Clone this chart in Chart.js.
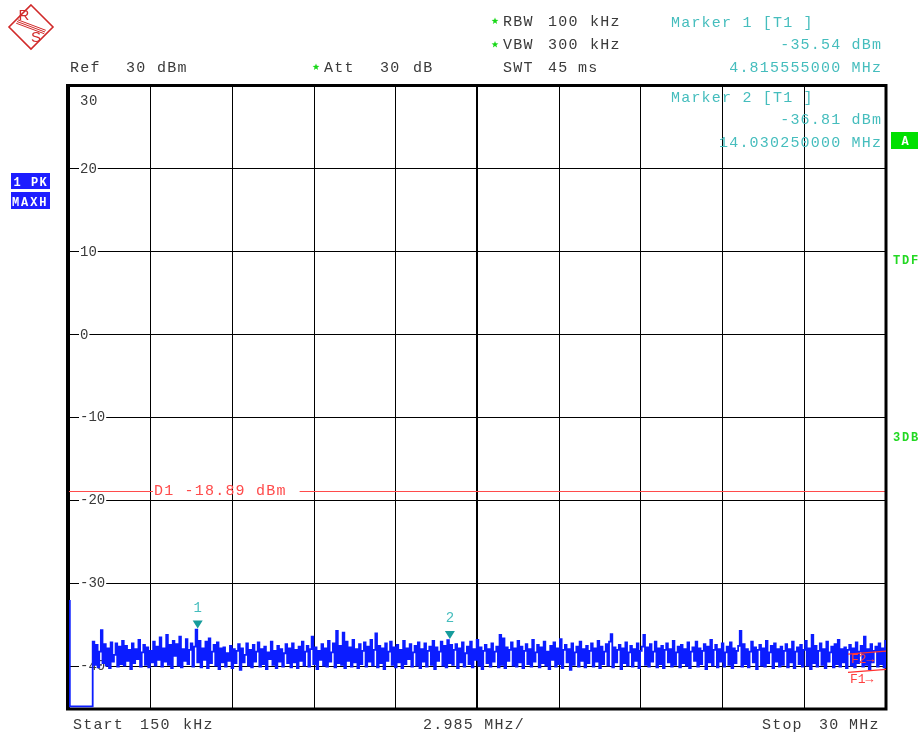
<!DOCTYPE html>
<html>
<head>
<meta charset="utf-8">
<script src="https://cdn.jsdelivr.net/npm/chart.js@4.4.1/dist/chart.umd.min.js"></script>
<style>
  html, body { margin: 0; padding: 0; background: #fff; }
  #wrap { position: relative; width: 922px; height: 733px; }
</style>
</head>
<body>
<div id="wrap"><canvas id="c" width="922" height="733"></canvas></div>
<script>
// Sweep settings
const START_MHZ = 0.15;
const STOP_MHZ = 30;
const SPAN_PER_DIV_MHZ = 2.985;
const REF_DBM = 30;
const BOTTOM_DBM = -45;
const ATT_DB = 30;
const RBW_KHZ = 100;
const VBW_KHZ = 300;
const SWT_MS = 45;

// Level grid (dBm)
const levelTicks = [20, 10, 0, -10, -20, -30, -40];

// Trace 1, max hold, peak detector (dBm per sweep point)
const traceDbm = [
  -32.1, -44.8, -44.8, -44.8, -44.8, -44.8, -44.8, -44.8, -44.8, -44.8, -44.8, -44.8, -44.8, -44.8, -44.8,
  -37.0, -39.8, -37.4, -40.1, -38.2, -35.6, -39.6, -37.3, -39.9, -37.8, -40.2, -37.1, -39.4, -38.6, -37.2, -40.0, -37.6, -39.7, -36.9, -39.9,
  -37.5, -39.3, -38.0, -40.3, -37.2, -39.6, -37.9, -39.1, -36.8, -40.0, -38.3, -37.4, -39.8, -37.7, -40.1, -38.1, -39.5, -37.0, -39.9, -37.6,
  -39.2, -36.5, -40.0, -37.8, -39.4, -36.2, -39.8, -37.4, -40.2, -36.9, -38.7, -37.3, -39.9, -36.4, -40.1, -37.9, -39.3, -36.7, -39.7, -38.0,
  -37.2, -40.0, -37.6, -35.54, -39.5, -36.9, -40.1, -37.8, -39.2, -37.0, -40.2, -36.6, -39.6, -38.2, -37.4, -39.9, -37.1, -40.3, -37.8, -39.5,
  -37.7, -40.0, -38.4, -39.3, -37.5, -40.2, -37.9, -39.6, -38.1, -37.3, -40.4, -37.8, -39.5, -38.6, -37.2, -39.9, -38.0, -40.1, -37.4, -39.4,
  -38.2, -37.1, -40.0, -37.9, -39.7, -37.6, -40.3, -38.3, -39.1, -37.0, -39.8, -38.1, -40.2, -37.5, -39.4, -37.9, -40.0, -38.4, -37.3, -39.6,
  -37.8, -40.1, -37.2, -39.5, -38.0, -40.2, -37.6, -39.3, -37.0, -39.9, -38.2, -37.5, -40.0, -37.9, -36.4, -39.7, -37.7, -40.3, -38.1, -39.2,
  -37.3, -39.9, -37.8, -40.0, -36.9, -39.4, -38.3, -37.2, -40.1, -35.7, -39.6, -37.5, -39.8, -35.9, -40.2, -37.0, -39.3, -37.7, -40.0, -36.8,
  -39.5, -37.9, -40.2, -37.3, -39.7, -38.1, -37.1, -40.0, -37.6, -39.4, -36.8, -39.9, -38.0, -36.0, -40.1, -37.5, -39.6, -37.8, -40.3, -37.2,
  -39.3, -38.2, -37.0, -39.8, -37.7, -40.1, -37.4, -39.5, -38.0, -40.2, -36.9, -39.7, -37.8, -39.1, -37.3, -40.0, -38.3, -37.5, -39.9, -37.1,
  -40.2, -37.9, -39.4, -37.2, -40.0, -38.1, -37.6, -39.8, -36.9, -40.3, -37.7, -39.3, -38.2, -37.0, -39.9, -37.5, -40.1, -36.81, -39.6, -37.4,
  -39.8, -38.0, -37.3, -40.2, -37.8, -39.5, -37.1, -40.0, -38.4, -37.6, -39.7, -37.0, -40.1, -37.9, -39.2, -36.8, -39.9, -37.7, -40.3, -38.1,
  -37.4, -39.6, -37.9, -40.0, -37.2, -39.4, -38.2, -37.6, -40.1, -36.2, -39.8, -36.6, -40.2, -37.7, -39.3, -38.0, -37.1, -39.9, -37.8, -40.0,
  -36.9, -39.5, -37.6, -40.2, -38.1, -37.3, -39.7, -37.9, -40.0, -36.8, -39.4, -38.3, -37.4, -40.1, -37.7, -39.6, -37.0, -39.9, -38.2, -40.3,
  -37.5, -39.2, -37.1, -40.0, -37.8, -39.7, -36.7, -40.2, -38.0, -37.4, -39.5, -37.9, -40.4, -37.2, -39.8, -38.3, -37.6, -40.0, -37.0, -39.3,
  -37.9, -40.1, -37.5, -39.6, -38.1, -37.2, -40.0, -37.8, -39.4, -36.9, -40.2, -37.6, -39.7, -38.2, -37.3, -39.9, -37.0, -36.1, -40.1, -37.7,
  -39.5, -38.0, -37.4, -40.3, -37.8, -39.6, -37.1, -39.9, -38.3, -37.5, -40.0, -37.9, -39.3, -37.2, -40.2, -38.1, -37.6, -36.2, -39.8, -37.7,
  -40.0, -37.3, -39.4, -38.2, -37.0, -40.1, -37.8, -39.7, -37.5, -40.2, -38.0, -37.2, -39.5, -37.9, -40.0, -36.9, -39.8, -38.3, -37.6, -40.1,
  -37.4, -39.6, -37.9, -39.9, -37.1, -40.2, -38.2, -37.7, -39.3, -37.0, -40.0, -37.8, -39.7, -38.1, -37.3, -40.3, -37.6, -39.5, -36.8, -39.9,
  -38.0, -37.4, -40.1, -37.9, -39.4, -37.2, -40.0, -38.3, -37.6, -39.8, -37.1, -40.2, -37.8, -39.6, -38.1, -37.5, -35.7, -40.0, -37.3, -39.7,
  -37.9, -40.1, -38.2, -37.0, -39.5, -37.7, -40.3, -38.0, -37.4, -39.9, -37.8, -40.0, -36.9, -39.6, -38.3, -37.5, -40.2, -37.2, -39.4, -37.9,
  -40.0, -37.6, -39.8, -38.1, -37.3, -40.1, -37.9, -39.5, -37.0, -40.2, -38.2, -37.7, -39.7, -37.4, -40.0, -38.0, -36.9, -39.9, -37.8, -40.3,
  -36.2, -39.6, -37.5, -40.0, -38.1, -37.2, -39.8, -37.9, -40.2, -37.0, -39.4, -38.3, -37.6, -40.1, -37.3, -39.7, -36.8, -40.0, -37.9, -39.5,
  -37.7, -40.2, -38.0, -37.4, -39.9, -37.8, -40.1, -37.1, -39.6, -38.2, -37.5, -40.0, -36.4, -39.8, -37.9, -40.3, -37.3, -39.5, -38.1, -37.6,
  -40.0, -37.2, -39.7, -37.8, -40.1, -36.9
];

// Markers on trace 1
const markerNames = ['1', '2'];
const markerFreqMHz = [4.815555, 14.03025];
const markerDbm = [-35.54, -36.81];

// Display line D1
const displayLineDbm = -18.89;

// Frequency of each sweep point, evenly spaced from start to stop
const sweepFreqMHz = traceDbm.map((_, i) => START_MHZ + i * (STOP_MHZ - START_MHZ) / (traceDbm.length - 1));
// Vertical grid: one line per division
const freqGridMHz = Array.from({ length: 11 }, (_, i) => START_MHZ + i * SPAN_PER_DIV_MHZ);

const MONO = '"Liberation Mono", "DejaVu Sans Mono", monospace';
const GRAY = '#3a3a3a';
const TEAL = '#45bdbd';
const MARKER_TEAL = '#169c9c';
const RED = '#ff4b4b';
const GREEN = '#18d818';
const BLUE_BOX = '#1d1dff';

function txt(ctx, s, x, y, color, font, spacing, align) {
  ctx.font = font;
  ctx.fillStyle = color;
  ctx.letterSpacing = (spacing || 0) + 'px';
  ctx.textBaseline = 'alphabetic';
  ctx.textAlign = 'left';
  let w = 0;
  if (align === 'right' || align === 'center') {
    w = ctx.measureText(s).width - (spacing || 0);
  }
  const x0 = align === 'right' ? x - w : align === 'center' ? x - w / 2 : x;
  ctx.fillText(s, x0, y);
  ctx.letterSpacing = '0px';
}

function star(ctx, cx, cy, r, color) {
  ctx.beginPath();
  for (let k = 0; k < 10; k++) {
    const rad = k % 2 === 0 ? r : r * 0.42;
    const ang = -Math.PI / 2 + k * Math.PI / 5;
    const px = cx + rad * Math.cos(ang), py = cy + rad * Math.sin(ang);
    k === 0 ? ctx.moveTo(px, py) : ctx.lineTo(px, py);
  }
  ctx.closePath();
  ctx.fillStyle = color;
  ctx.fill();
}

function drawLogo(ctx) {
  const cx = 31, cy = 27, r = 22;
  ctx.save();
  ctx.strokeStyle = '#d12a2a';
  ctx.fillStyle = '#d12a2a';
  ctx.lineWidth = 1.6;
  ctx.beginPath();
  ctx.moveTo(cx, cy - r); ctx.lineTo(cx + r, cy); ctx.lineTo(cx, cy + r); ctx.lineTo(cx - r, cy); ctx.closePath();
  ctx.stroke();
  // stripes between the letters
  ctx.lineWidth = 1;
  for (let k = -1; k <= 1; k++) {
    ctx.beginPath();
    ctx.moveTo(17 + k * 0.8, 21.5 - k * 1.7);
    ctx.lineTo(45 + k * 0.8, 32 - k * 1.7);
    ctx.stroke();
  }
  ctx.font = '15px "Liberation Sans", sans-serif';
  ctx.textAlign = 'center';
  ctx.textBaseline = 'alphabetic';
  ctx.fillText('R', 24, 20);
  ctx.fillText('S', 36, 42);
  ctx.restore();
}

const analyzerDecor = {
  id: 'analyzerDecor',
  beforeDatasetsDraw(chart) {
    const { ctx, chartArea: a, scales: { y } } = chart;
    ctx.save();
    // display line D1 with its label
    const yd = Math.round(y.getPixelForValue(displayLineDbm)) + 0.5;
    const label = 'D1 ' + displayLineDbm.toFixed(2) + ' dBm';
    const labelX = a.left + 85;
    ctx.font = '15px ' + MONO;
    ctx.letterSpacing = '1.2px';
    const lw = ctx.measureText(label).width;
    ctx.letterSpacing = '0px';
    ctx.strokeStyle = RED;
    ctx.lineWidth = 1.2;
    ctx.beginPath();
    ctx.moveTo(a.left, yd); ctx.lineTo(labelX - 1, yd);
    ctx.moveTo(labelX + lw + 13, yd); ctx.lineTo(a.right, yd);
    ctx.stroke();
    txt(ctx, label, labelX, yd + 3.5, RED, '15px ' + MONO, 1.2);
    // top level label
    txt(ctx, String(REF_DBM), a.left + 11, a.top + 19, GRAY, '14px ' + MONO, 0.6);
    // diagram frame
    ctx.strokeStyle = '#000';
    ctx.lineWidth = 3;
    ctx.strokeRect(a.left - 1.5, a.top - 0.5, a.right - a.left + 1.5, a.bottom - a.top + 1.5);
    ctx.restore();
  },
  afterDatasetsDraw(chart) {
    const { ctx, chartArea: a, scales: { x, y } } = chart;
    ctx.save();
    // marker symbols
    markerFreqMHz.forEach((f, i) => {
      const px = x.getPixelForValue(f) + 1;
      const py = y.getPixelForValue(markerDbm[i]) - 1;
      ctx.fillStyle = MARKER_TEAL;
      ctx.beginPath();
      ctx.moveTo(px - 5, py - 8); ctx.lineTo(px + 5, py - 8); ctx.lineTo(px, py); ctx.closePath();
      ctx.fill();
      txt(ctx, markerNames[i], px, py - 17, TEAL, '14px ' + MONO, 0, 'center');
    });
    // frequency line indicators beyond the right edge
    const f2y = y.getPixelForValue(-38.5), f1y = y.getPixelForValue(-40.7);
    ctx.strokeStyle = '#ff3030';
    ctx.lineWidth = 1.3;
    ctx.beginPath();
    ctx.moveTo(a.right - 38, f2y); ctx.lineTo(a.right, f2y - 3);
    ctx.moveTo(a.right - 38, f1y); ctx.lineTo(a.right, f1y - 3);
    ctx.stroke();
    txt(ctx, 'F2\u2192', a.right - 35, f2y + 9, '#ff4040', '13px ' + MONO, 0);
    txt(ctx, 'F1\u2192', a.right - 36, f1y + 11, '#ff4040', '13px ' + MONO, 0);
    ctx.restore();
  },
  afterDraw(chart) {
    const { ctx } = chart;
    ctx.save();
    const F = '15px ' + MONO, S = 1.2;
    drawLogo(ctx);
    // setting readout
    txt(ctx, 'Ref', 70, 72, GRAY, F, S);
    txt(ctx, String(REF_DBM), 126, 72, GRAY, F, S);
    txt(ctx, 'dBm', 157, 72, GRAY, F, S);
    star(ctx, 316, 67, 3.6, GREEN);
    txt(ctx, 'Att', 324, 72, GRAY, F, S);
    txt(ctx, String(ATT_DB), 380, 72, GRAY, F, S);
    txt(ctx, 'dB', 413, 72, GRAY, F, S);
    star(ctx, 495, 21, 3.6, GREEN);
    txt(ctx, 'RBW', 503, 26, GRAY, F, S);
    txt(ctx, String(RBW_KHZ), 548, 26, GRAY, F, S);
    txt(ctx, 'kHz', 590, 26, GRAY, F, S);
    star(ctx, 495, 44.5, 3.6, GREEN);
    txt(ctx, 'VBW', 503, 49, GRAY, F, S);
    txt(ctx, String(VBW_KHZ), 548, 49, GRAY, F, S);
    txt(ctx, 'kHz', 590, 49, GRAY, F, S);
    txt(ctx, 'SWT', 503, 72, GRAY, F, S);
    txt(ctx, String(SWT_MS), 548, 72, GRAY, F, S);
    txt(ctx, 'ms', 578, 72, GRAY, F, S);
    // marker readout
    const rows = [[27, 49, 72], [101.5, 124, 146.5]];
    markerNames.forEach((n, i) => {
      const r = rows[i];
      txt(ctx, 'Marker ' + n + ' [T1 ]', 671, r[0], TEAL, F, S);
      txt(ctx, markerDbm[i].toFixed(2) + ' dBm', 881, r[1], TEAL, F, S, 'right');
      txt(ctx, markerFreqMHz[i].toFixed(9) + ' MHz', 881, r[2], TEAL, F, S, 'right');
    });
    // frequency axis annotation
    txt(ctx, 'Start', 73, 729, GRAY, F, S);
    txt(ctx, String(START_MHZ * 1000), 140, 729, GRAY, F, S);
    txt(ctx, 'kHz', 183, 729, GRAY, F, S);
    txt(ctx, SPAN_PER_DIV_MHZ.toFixed(3) + ' MHz/', 423, 729, GRAY, F, S);
    txt(ctx, 'Stop', 762, 729, GRAY, F, S);
    txt(ctx, String(STOP_MHZ), 819, 729, GRAY, F, S);
    txt(ctx, 'MHz', 849, 729, GRAY, F, S);
    // trace info boxes
    ctx.fillStyle = BLUE_BOX;
    ctx.fillRect(11, 173, 39, 16);
    ctx.fillRect(11, 192, 39, 17);
    txt(ctx, '1', 13.5, 186, '#fff', 'bold 12px ' + MONO, 0);
    txt(ctx, 'PK', 31, 186, '#fff', 'bold 12px ' + MONO, 1.4);
    txt(ctx, 'MAXH', 12, 205.5, '#fff', 'bold 12px ' + MONO, 1.9);
    // status flags on the right
    ctx.fillStyle = '#00e000';
    ctx.fillRect(891, 132, 27, 17);
    txt(ctx, 'A', 905, 145, '#fff', 'bold 12px ' + MONO, 0, 'center');
    txt(ctx, 'TDF', 893, 264, '#22d822', 'bold 12px ' + MONO, 1.8);
    txt(ctx, '3DB', 893, 441, '#22d822', 'bold 12px ' + MONO, 1.8);
    ctx.restore();
  }
};

Chart.defaults.font.family = MONO;

new Chart(document.getElementById('c'), {
  type: 'line',
  data: {
    datasets: [{
      label: 'Trace 1',
      data: traceDbm.map((v, i) => ({ x: sweepFreqMHz[i], y: v })),
      borderColor: '#0b1cff',
      borderWidth: 1.8,
      stepped: 'middle',
      pointRadius: 0,
      tension: 0,
      fill: false
    }]
  },
  options: {
    responsive: false,
    animation: false,
    devicePixelRatio: 1,
    events: [],
    layout: { padding: { left: 69, top: 86, right: 36, bottom: 25 } },
    plugins: { legend: { display: false }, tooltip: { enabled: false } },
    scales: {
      x: {
        type: 'linear',
        min: START_MHZ,
        max: STOP_MHZ,
        afterBuildTicks: (s) => { s.ticks = freqGridMHz.map(v => ({ value: v })); },
        afterFit: (s) => { s.height = 0; },
        ticks: { display: false },
        border: { display: false },
        grid: {
          color: '#000',
          lineWidth: (c) => (c.index === 5 ? 2 : 1),
          drawTicks: false
        }
      },
      y: {
        type: 'linear',
        min: BOTTOM_DBM,
        max: REF_DBM,
        afterBuildTicks: (s) => { s.ticks = levelTicks.map(v => ({ value: v })); },
        afterFit: (s) => { s.width = 0; },
        border: { display: false },
        grid: { color: '#000', lineWidth: 1, drawTicks: false },
        ticks: {
          mirror: true,
          padding: 11,
          color: GRAY,
          font: { family: MONO, size: 14 },
          showLabelBackdrop: true,
          backdropColor: '#fff',
          backdropPadding: { top: 0, bottom: 0, left: 1, right: 1 },
          callback: (v) => String(v)
        }
      }
    }
  },
  plugins: [analyzerDecor]
});
</script>
</body>
</html>
